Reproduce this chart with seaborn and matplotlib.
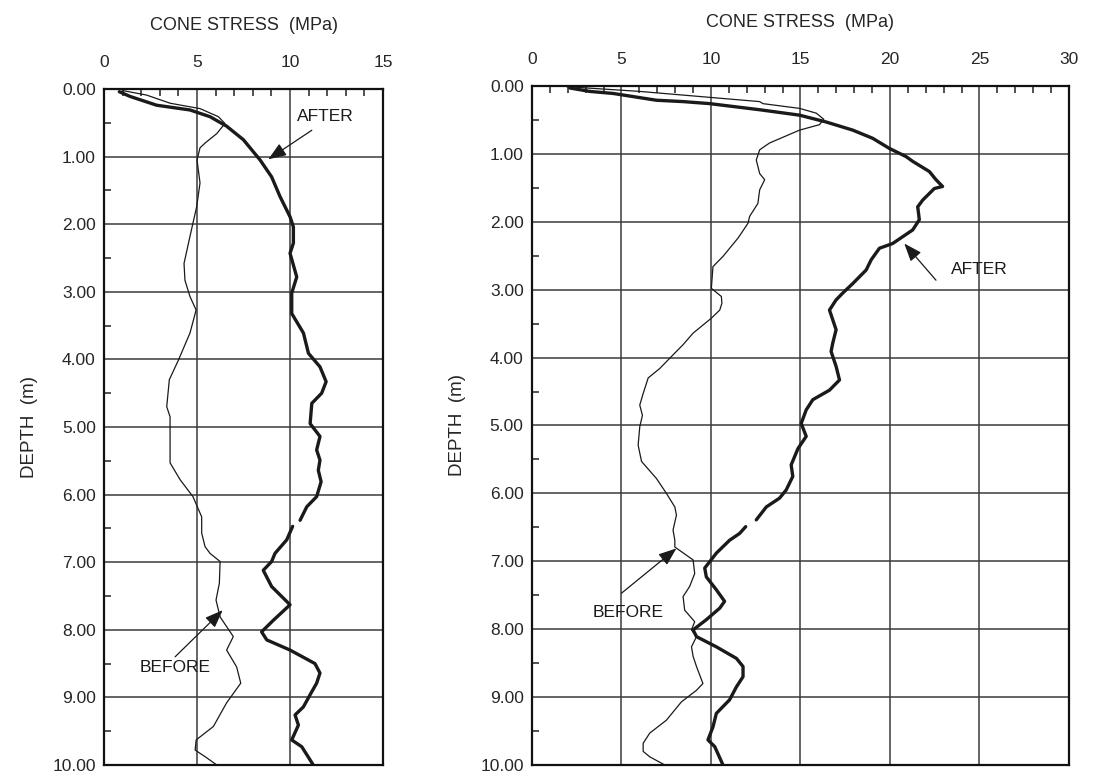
import matplotlib
matplotlib.use("Agg")
import matplotlib.pyplot as plt
from matplotlib.ticker import MultipleLocator, FormatStrFormatter
import seaborn as sns
import pandas as pd

# ---- data read off the two CPT soundings (stress in MPa, depth in m) ----
# left sounding
left_before_stress = [0.9, 1.04, 2.29, 3.55, 5.16, 6.15, 6.5, 6.06, 5.43, 5.16, 5.0, 5.16, 4.98, 4.62,
                      4.30, 4.35, 4.62, 4.95, 4.62, 4.0, 3.51, 3.37, 3.55, 3.55, 4.09, 4.78, 5.25,
                      5.25, 5.43, 5.70, 6.24, 6.20, 6.02, 6.24, 6.95, 6.59, 7.13, 7.35, 6.59, 5.88,
                      4.95, 4.90, 5.45, 6.06]
left_before_depth = [0.04, 0.025, 0.09, 0.21, 0.29, 0.41, 0.51, 0.66, 0.80, 0.87, 1.05, 1.39, 1.74,
                     2.18, 2.58, 2.83, 3.07, 3.27, 3.61, 4.01, 4.30, 4.70, 4.85, 5.53, 5.78, 6.03,
                     6.33, 6.57, 6.77, 6.87, 6.99, 7.31, 7.56, 7.81, 8.10, 8.30, 8.55, 8.79, 9.08,
                     9.43, 9.63, 9.78, 9.88, 10.0]

left_after_top_stress = [0.82, 1.40, 2.83, 4.62, 5.70, 6.59, 7.49, 8.39, 9.01, 9.46, 10.0, 10.18, 10.18,
                         10.0, 10.36, 10.09, 10.09, 10.72, 10.99, 11.61, 11.94, 11.70, 11.17, 11.08,
                         11.61, 11.43, 11.61, 11.52, 11.67, 11.43, 10.90, 10.72, 10.54]
left_after_top_depth = [0.04, 0.11, 0.24, 0.31, 0.41, 0.55, 0.75, 1.05, 1.30, 1.59, 1.89, 2.04, 2.28,
                        2.43, 2.78, 3.02, 3.32, 3.61, 3.91, 4.11, 4.33, 4.50, 4.65, 4.95, 5.14, 5.34,
                        5.49, 5.64, 5.81, 6.03, 6.18, 6.28, 6.38]
left_after_low_stress = [10.14, 9.82, 9.19, 9.01, 8.56, 9.01, 10.0, 9.10, 8.47, 8.75, 10.0, 11.34,
                         11.61, 11.43, 11.08, 10.72, 10.27, 10.45, 10.09, 10.63, 11.25]
left_after_low_depth = [6.47, 6.67, 6.87, 6.99, 7.12, 7.36, 7.63, 7.86, 8.03, 8.15, 8.30, 8.50, 8.64,
                        8.79, 8.96, 9.14, 9.26, 9.41, 9.63, 9.73, 10.0]

# right sounding
right_before_stress = [1.93, 6.02, 12.72, 12.90, 14.95, 15.88, 16.30, 16.06, 14.95, 13.27, 12.72, 12.53,
                       12.72, 13.0, 12.72, 12.62, 12.16, 12.07, 11.69, 11.51, 10.67, 10.11, 10.02,
                       10.58, 10.61, 10.49, 10.02, 9.0, 8.44, 7.88, 7.14, 6.49, 6.21, 6.02, 6.17, 6.02,
                       5.93, 6.12, 6.95, 7.51, 7.98, 8.07, 7.88, 7.98, 7.98, 9.0, 9.09, 8.81, 8.44,
                       8.53, 9.09, 8.91, 9.19, 8.91, 9.0, 9.19, 9.55, 9.19, 8.35, 7.51, 6.58, 6.21,
                       6.21, 6.58, 7.42]
right_before_depth = [0.01, 0.08, 0.23, 0.26, 0.33, 0.40, 0.49, 0.57, 0.65, 0.84, 0.94, 1.09, 1.29,
                      1.38, 1.53, 1.73, 1.92, 2.02, 2.17, 2.24, 2.51, 2.66, 2.98, 3.10, 3.20, 3.30,
                      3.42, 3.64, 3.81, 3.96, 4.16, 4.30, 4.53, 4.70, 4.85, 5.02, 5.29, 5.53, 5.78,
                      6.00, 6.20, 6.32, 6.54, 6.69, 6.79, 6.98, 7.18, 7.37, 7.52, 7.72, 7.89, 8.01,
                      8.11, 8.26, 8.40, 8.55, 8.80, 8.90, 9.07, 9.34, 9.53, 9.68, 9.80, 9.88, 10.0]

right_after_top_stress = [2.12, 3.23, 4.53, 6.95, 8.44, 9.93, 12.72, 14.95, 16.43, 17.92, 19.03, 19.97,
                          20.90, 21.27, 22.20, 22.57, 22.94, 22.48, 21.83, 21.55, 21.64, 21.27, 20.15,
                          19.41, 18.95, 18.67, 17.92, 17.36, 16.99, 16.62, 16.99, 16.80, 16.71, 16.99,
                          17.18, 16.62, 15.69, 15.32, 15.04, 15.32, 14.86, 14.48, 14.57, 14.20, 13.83,
                          13.09, 12.53]
right_after_top_depth = [0.03, 0.08, 0.11, 0.21, 0.23, 0.26, 0.35, 0.43, 0.53, 0.65, 0.77, 0.92, 1.04,
                         1.11, 1.26, 1.38, 1.48, 1.51, 1.68, 1.78, 1.97, 2.12, 2.32, 2.39, 2.56, 2.71,
                         2.91, 3.05, 3.15, 3.30, 3.59, 3.79, 3.91, 4.13, 4.33, 4.48, 4.62, 4.77, 4.97,
                         5.16, 5.34, 5.58, 5.75, 5.95, 6.07, 6.20, 6.39]
right_after_low_stress = [11.94, 11.60, 11.04, 10.30, 9.65, 9.74, 10.30, 10.76, 10.49, 9.74, 9.0, 9.19,
                          10.30, 11.42, 11.79, 11.79, 11.42, 11.04, 10.30, 10.11, 9.83, 10.21, 10.67]
right_after_low_depth = [6.49, 6.59, 6.69, 6.88, 7.10, 7.23, 7.42, 7.59, 7.69, 7.86, 8.01, 8.11, 8.26,
                         8.43, 8.55, 8.70, 8.85, 9.04, 9.24, 9.44, 9.63, 9.73, 10.0]

# annotations: (label, text x, text depth, arrow head x, arrow head depth, arrow tail x, arrow tail depth)
left_notes = [("AFTER", 11.9, 0.40, 8.83, 1.04, 11.17, 0.61),
              ("BEFORE", 3.82, 8.56, 6.38, 7.71, 3.82, 8.40)]
right_notes = [("AFTER", 25.0, 2.71, 20.80, 2.32, 22.57, 2.86),
               ("BEFORE", 5.35, 7.75, 8.07, 6.81, 5.0, 7.47)]

sns.set_style("white")
plt.rcParams["font.family"] = ["Liberation Sans", "DejaVu Sans"]


def curve_frame(parts):
    frames = []
    for i, (s, d) in enumerate(parts):
        frames.append(pd.DataFrame({"stress": s, "depth": d, "seg": i}))
    return pd.concat(frames, ignore_index=True)


def draw_panel(ax, before, after_parts, xmax, notes):
    sns.lineplot(data=curve_frame([before]), x="stress", y="depth", units="seg",
                 estimator=None, sort=False, color="#1a1a1a", lw=0.9, ax=ax)
    sns.lineplot(data=curve_frame(after_parts), x="stress", y="depth", units="seg",
                 estimator=None, sort=False, color="#1a1a1a", lw=2.4, ax=ax)
    ax.set_xlim(0, xmax)
    ax.set_ylim(10, 0)
    ax.xaxis.set_major_locator(MultipleLocator(5))
    ax.xaxis.set_minor_locator(MultipleLocator(1))
    ax.yaxis.set_major_locator(MultipleLocator(1))
    ax.yaxis.set_minor_locator(MultipleLocator(0.5))
    ax.yaxis.set_major_formatter(FormatStrFormatter("%.2f"))
    ax.xaxis.tick_top()
    ax.xaxis.set_label_position("top")
    ax.tick_params(axis="x", which="both", direction="in", top=True, bottom=False,
                   labeltop=True, labelbottom=False, labelsize=12.5, pad=14)
    ax.tick_params(axis="x", which="major", length=0)
    ax.tick_params(axis="x", which="minor", length=5, width=1.1, color="#222222")
    ax.tick_params(axis="y", which="both", direction="in", left=True, right=False,
                   labelsize=12.5, pad=6)
    ax.tick_params(axis="y", which="major", length=0)
    ax.tick_params(axis="y", which="minor", length=5, width=1.1, color="#222222")
    ax.grid(True, which="major", color="#3a3a3a", lw=1.1)
    ax.set_axisbelow(True)
    for sp in ax.spines.values():
        sp.set_color("#111111")
        sp.set_linewidth(1.6)
    ax.set_xlabel("CONE STRESS  (MPa)", fontsize=13, labelpad=18)
    ax.set_ylabel("DEPTH  (m)", fontsize=13.5, labelpad=10)
    for label, tx, td, hx, hd, ax0, ad0 in notes:
        ax.text(tx, td, label, fontsize=12.5, ha="center", va="center", color="#1a1a1a")
        ax.annotate("", xy=(hx, hd), xytext=(ax0, ad0),
                    arrowprops=dict(arrowstyle="-|>,head_length=1.1,head_width=0.42",
                                    color="#1a1a1a", lw=0.9, shrinkA=0, shrinkB=0))


fig = plt.figure(figsize=(11.01, 7.76), dpi=100)
ax_left = fig.add_axes([0.0945, 0.0142, 0.2534, 0.8711])
ax_right = fig.add_axes([0.4832, 0.0142, 0.4877, 0.8750])

draw_panel(ax_left, (left_before_stress, left_before_depth),
           [(left_after_top_stress, left_after_top_depth),
            (left_after_low_stress, left_after_low_depth)], 15, left_notes)
draw_panel(ax_right, (right_before_stress, right_before_depth),
           [(right_after_top_stress, right_after_top_depth),
            (right_after_low_stress, right_after_low_depth)], 30, right_notes)

fig.savefig("out.png", dpi=100)
